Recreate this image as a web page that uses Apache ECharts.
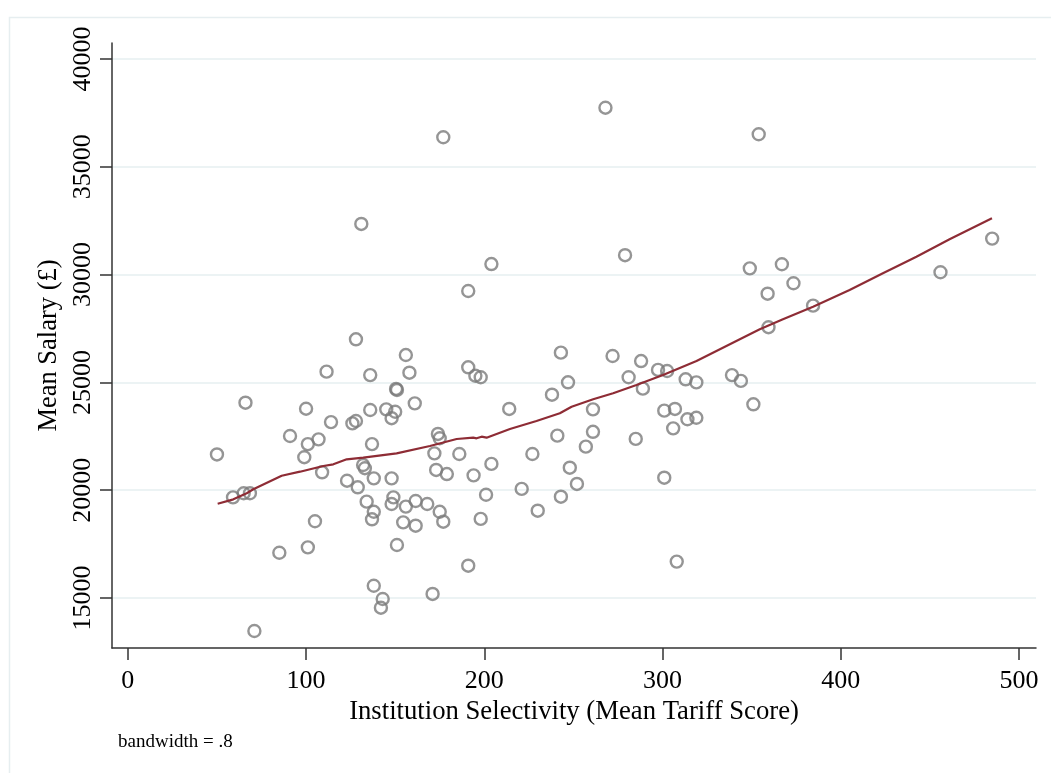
<!DOCTYPE html>
<html>
<head>
<meta charset="utf-8">
<script src="https://cdn.jsdelivr.net/npm/echarts@6/dist/echarts.min.js"></script>
<style>
html,body{margin:0;padding:0;background:#fff;}
#chart{width:1051px;height:773px;}
</style>
</head>
<body>
<div id="chart"></div>
<script>
// Scatter data: institution selectivity (mean tariff score) vs mean salary (£)
const scatterTariff = [
  50,59,65,68.5,66,91,85,71,99,100,101,101,105,107,109,111.5,114,123,126,
  136,156,158,191,195,198,150.5,151,161,136,145,150,148,128,137,174,175,172,186,132,133,129,138,148,173,179,194,204,
  214,238,247,227,241,221,201,198,230,243,248,252,257,261,261,285,281,289,297.5,302.6,301,307,306,313,314,301,308,
  134,138,137,149,148,156,161.5,168,175,177,154.5,161.5,151,191,138,143,142,171,
  268,177,131,204,279,191,128,243,272,288,
  354,485,456,349,367,373.5,359,384.5,359.5,319,339,344,351,319
];
const scatterSalary = [
  21660,19670,19860,19860,24060,22515,17100,13470,21530,23780,22140,17350,18560,22360,20830,25500,23160,20440,23100,
  25340,26270,25450,25700,25310,25240,24700,24650,24030,23720,23750,23640,23340,23210,22140,22610,22410,21710,21680,21170,21020,20135,20550,20550,20940,20750,20690,21220,
  23770,24430,25005,21680,22530,20060,19790,18670,19050,19700,21045,20290,22020,22710,23750,22380,25240,24710,25580,25530,23690,23770,22870,25145,23290,20580,16690,
  19470,19000,18650,19670,19360,19240,19500,19360,19000,18540,18510,18355,17460,16500,15570,14955,14550,15190,
  37740,36370,32350,30490,30900,29240,27000,26380,26225,25990,
  36510,31670,30110,30290,30480,29600,29115,28560,27560,25000,25340,25070,23985,23360
];
// Lowess fit line
const lowessTariff = [50.4,59.2,66.7,70.4,86.3,96.6,109.7,115.3,122.8,132.1,150.8,169.5,184.5,193.8,195.7,198.5,201.3,214.4,229.3,242.4,249,261.1,272.3,285.4,300.3,319.1,343.4,354.6,367.6,384.5,405,423.7,442.5,461.1,484.9];
const lowessSalary = [19375,19578,19857,20043,20673,20859,21125,21202,21434,21508,21712,22051,22376,22437,22408,22483,22437,22839,23210,23567,23874,24217,24495,24880,25344,25993,27000,27463,27927,28512,29286,30061,30831,31638,32612];
// Axis ticks
const xTicks = [0,100,200,300,400,500];
const yTicks = [15000,20000,25000,30000,35000,40000];

const FONT = '"Liberation Serif","Times New Roman",serif';
const scatterData = scatterTariff.map((x,i)=>[x, scatterSalary[i]]);
const lineData = lowessTariff.map((x,i)=>[x, lowessSalary[i]]);

const chart = echarts.init(document.getElementById('chart'), null, {renderer:'canvas'});
chart.setOption({
  animation:false,
  backgroundColor:'#ffffff',
  graphic:[
    {type:'rect', left:7, top:15, shape:{width:1100, height:800}, style:{fill:'none', stroke:'#e6eef0', lineWidth:1.5}, silent:true},
    {type:'text', left:118, top:733, style:{text:'bandwidth = .8', font:'19px ' + FONT, fill:'#000'}}
  ],
  grid:{left:112, top:43, width:924, height:605, containLabel:false},
  xAxis:{
    type:'value', min:-8.9, max:509.6,
    name:'Institution Selectivity (Mean Tariff Score)',
    nameLocation:'middle', nameGap:41,
    nameTextStyle:{fontFamily:FONT, fontSize:26.7, color:'#000'},
    axisLine:{show:true, onZero:false, lineStyle:{color:'#333', width:1.5}},
    axisTick:{show:true, length:12, inside:false, customValues:xTicks, lineStyle:{color:'#333', width:1.5}},
    axisLabel:{customValues:xTicks, fontFamily:FONT, fontSize:26, color:'#000', margin:20,
      formatter:(v)=>String(v)},
    splitLine:{show:false}
  },
  yAxis:{
    type:'value', min:12682, max:40742,
    name:'Mean Salary (£)',
    nameLocation:'middle', nameGap:44,
    nameTextStyle:{fontFamily:FONT, fontSize:26.5, color:'#000'},
    axisLine:{show:true, onZero:false, lineStyle:{color:'#333', width:1.5}},
    axisTick:{show:true, length:12, inside:false, customValues:yTicks, lineStyle:{color:'#333', width:1.5}},
    axisLabel:{customValues:yTicks, rotate:90, fontFamily:FONT, fontSize:26, color:'#000', margin:16,
      formatter:(v)=>String(v)},
    splitLine:{show:true, lineStyle:{color:'#e6eff1', width:1.5}}
  },
  series:[
    {type:'scatter', data:scatterData, symbol:'circle', symbolSize:12, z:2,
     itemStyle:{color:'rgba(0,0,0,0)', borderColor:'#7a7a7a', borderWidth:2.4}},
    {type:'line', data:lineData, showSymbol:false, smooth:false, z:3,
     lineStyle:{color:'#8e2c35', width:2.2}}
  ]
});
</script>
</body>
</html>
